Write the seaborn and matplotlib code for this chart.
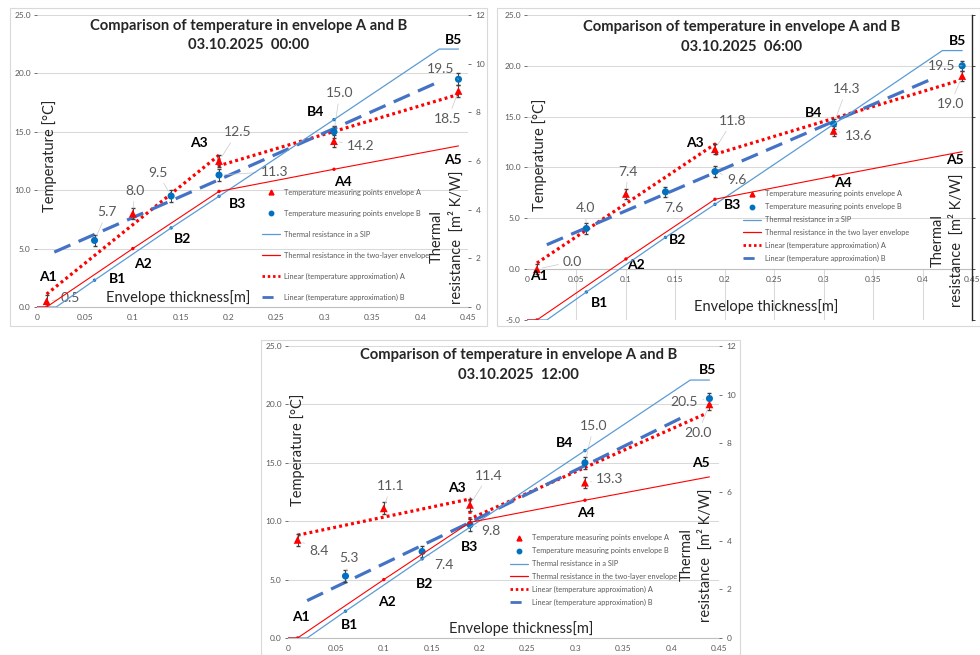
import numpy as np
import pandas as pd
import seaborn as sns
import matplotlib.pyplot as plt
from matplotlib.lines import Line2D
from matplotlib.patches import Rectangle

# positions of the measuring points [m]
x_A = [0.01, 0.10, 0.19, 0.31, 0.44]
x_B = [0.06, 0.14, 0.19, 0.31, 0.44]
names_A = ['A1', 'A2', 'A3', 'A4', 'A5']
names_B = ['B1', 'B2', 'B3', 'B4', 'B5']

# measured temperatures [°C]
temp_A_0000 = [0.5, 8.0, 12.5, 14.2, 18.5]
temp_B_0000 = [5.7, 9.5, 11.3, 15.0, 19.5]
temp_A_0600 = [0.0, 7.4, 11.8, 13.6, 19.0]
temp_B_0600 = [4.0, 7.6, 9.6, 14.3, 20.0]
temp_A_1200 = [8.4, 11.1, 11.4, 13.3, 20.0]
temp_B_1200 = [5.3, 7.4, 9.7, 15.0, 20.5]

# value labels as printed on the chart
lab_A_0000 = ['0.5', '8.0', '12.5', '14.2', '18.5']
lab_B_0000 = ['5.7', '9.5', '11.3', '15.0', '19.5']
lab_A_0600 = ['0.0', '7.4', '11.8', '13.6', '19.0']
lab_B_0600 = ['4.0', '7.6', '9.6', '14.3', '19.5']
lab_A_1200 = ['8.4', '11.1', '11.4', '13.3', '20.0']
lab_B_1200 = ['5.3', '7.4', '9.8', '15.0', '20.5']

# thermal resistance [m2 K/W] (right axis)
x_sip = [0.0, 0.02, 0.06, 0.14, 0.19, 0.31, 0.42, 0.44]
r_sip = [0.0, 0.0, 1.1, 3.25, 4.55, 7.7, 10.6, 10.6]
x_two = [0.0, 0.01, 0.10, 0.19, 0.31, 0.44]
r_two = [0.0, 0.0, 2.4, 4.75, 5.66, 6.62]

# linear trend lines (temperature approximation)
trend_A_0000_x = [0.01, 0.19, 0.19, 0.44]
trend_A_0000_y = [1.1, 13.0, 12.1, 18.2]
trend_B_0000_x = [0.018, 0.19, 0.42]
trend_B_0000_y = [4.7, 10.9, 19.3]
trend_A_0600_x = [0.01, 0.19, 0.19, 0.435]
trend_A_0600_y = [0.6, 12.3, 11.3, 18.5]
trend_B_0600_x = [0.02, 0.19, 0.414]
trend_B_0600_y = [2.4, 9.5, 18.9]
trend_A_1200_x = [0.01, 0.19, 0.19, 0.436]
trend_A_1200_y = [8.8, 11.9, 10.2, 19.2]
trend_B_1200_x = [0.02, 0.19, 0.417]
trend_B_1200_y = [3.2, 9.9, 19.1]

x_ticks = [0, 0.05, 0.1, 0.15, 0.2, 0.25, 0.3, 0.35, 0.4, 0.45]
x_tick_labels = ['0', '0.05', '0.1', '0.15', '0.2', '0.25', '0.3', '0.35', '0.4', '0.45']

RED = '#FF0000'
BLUE_PT = '#0070C0'
BLUE_SIP = '#5B9BD5'
BLUE_TR = '#4472C4'
GRAY = '#595959'

sns.set_theme(style='white')
plt.rcParams['font.family'] = ['Lato', 'DejaVu Sans']

fig = plt.figure(figsize=(9.8, 6.55), dpi=100)


def draw_panel(rect, frame, stamp, tA, tB, labA, labB, trA, trB, ymin,
               two_text, lay):
    fig.add_artist(Rectangle(frame[:2], frame[2], frame[3], transform=fig.transFigure,
                             fill=False, edgecolor='#D9D9D9', lw=0.8))
    ax = fig.add_axes(rect)
    ax2 = ax.twinx()

    # temperatures
    sns.lineplot(x=trA[0], y=trA[1], ax=ax, sort=False, estimator=None, color=RED,
                 lw=2.3, linestyle=(0, (0.9, 1.0)), dash_capstyle='butt')
    sns.lineplot(x=trB[0], y=trB[1], ax=ax, sort=False, estimator=None, color=BLUE_TR,
                 lw=2.3, linestyle=(0, (5.5, 2.8)))
    ax.errorbar(x_A, tA, yerr=0.5, fmt='none', ecolor='#404040', elinewidth=0.7, capsize=1.2)
    ax.errorbar(x_B, tB, yerr=0.5, fmt='none', ecolor='#404040', elinewidth=0.7, capsize=1.2)
    sns.scatterplot(x=x_A, y=tA, ax=ax, marker='^', color=RED, s=32, edgecolor='none', zorder=5)
    sns.scatterplot(x=x_B, y=tB, ax=ax, marker='o', color=BLUE_PT, s=26, edgecolor='none', zorder=5)

    # thermal resistance
    sns.lineplot(x=x_sip, y=r_sip, ax=ax2, sort=False, estimator=None, color=BLUE_SIP, lw=0.9)
    sns.lineplot(x=x_two, y=r_two, ax=ax2, sort=False, estimator=None, color=RED, lw=0.8)
    sns.scatterplot(x=x_sip[2:6], y=r_sip[2:6], ax=ax2, color=BLUE_PT, s=6, edgecolor='none')
    sns.scatterplot(x=x_two[1:5], y=r_two[1:5], ax=ax2, color=RED, s=6, edgecolor='none')

    ax.set_xlim(0, 0.45)
    ax.set_ylim(ymin, 25)
    ax2.set_ylim(0, 12)
    ax.set_yticks(np.arange(ymin, 25.1, 5))
    ax.set_yticklabels([f'{v:.1f}' for v in np.arange(ymin, 25.1, 5)])
    ax.set_xticks(x_ticks)
    ax.set_xticklabels(x_tick_labels)
    ax2.set_yticks(range(0, 13, 2))
    ax.grid(axis='y', color='#D9D9D9', lw=0.75)
    ax.set_axisbelow(True)
    ax.set_xlabel('')
    ax.set_ylabel('')
    ax2.set_ylabel('')
    ax.tick_params(axis='y', labelsize=6, colors=GRAY, length=2.5, width=0.6, pad=2, left=True)
    ax.tick_params(axis='x', labelsize=6, colors=GRAY, length=0, pad=5)
    ax2.tick_params(axis='y', labelsize=6, colors=GRAY, length=2.5, width=0.6, pad=3, right=True)
    for side in ['top', 'left', 'right', 'bottom']:
        ax.spines[side].set_visible(False)
        ax2.spines[side].set_visible(False)
    ax.spines['bottom'].set_visible(True)
    ax.spines['bottom'].set_color('#BFBFBF')
    ax.spines['bottom'].set_linewidth(0.8)
    if ymin < 0:
        ax.spines['bottom'].set_position(('data', 0))
        ax.vlines(x_ticks[1:], ymin, 0, color='#D9D9D9', lw=0.75, zorder=0)
        ax2.spines['right'].set_visible(True)
        ax2.spines['right'].set_color('#262626')
        ax2.spines['right'].set_linewidth(1.0)
        ax2.tick_params(axis='y', labelright=False, colors='#262626')

    # texts
    ax.text(lay['title'][0], lay['title'][1], 'Comparison of temperature in envelope A and B',
            transform=ax.transAxes, ha='center', va='center', fontsize=10.6, fontweight='bold')
    ax.text(lay['title'][0], lay['title'][2], stamp, transform=ax.transAxes,
            ha='center', va='center', fontsize=10.6, fontweight='bold')
    ax.text(*lay['ylabel'], 'Temperature [°C]', transform=ax.transAxes, rotation=90,
            ha='center', va='center', fontsize=10.5, color='#262626')
    ax.text(*lay['xlabel'], 'Envelope thickness[m]', transform=ax.transAxes,
            ha='center', va='center', fontsize=10.5, color='#262626')
    ax.text(*lay['rlabel'], 'Thermal\nresistance  [m² K/W]', transform=ax.transAxes,
            rotation=90, ha='center', va='center', multialignment='center',
            fontsize=10.5, linespacing=1.35, color='#262626')

    for i in range(5):
        ax.text(*lay['nameA'][i], names_A[i], ha='center', va='center', fontsize=10,
                fontweight='bold', color='black', zorder=6)
        ax.text(*lay['nameB'][i], names_B[i], ha='center', va='center', fontsize=10,
                fontweight='bold', color='black', zorder=6)
        ax.annotate(labA[i], xy=(x_A[i], tA[i]), xytext=lay['valA'][i], ha='center',
                    va='center', fontsize=10, color=GRAY, zorder=6,
                    arrowprops=dict(arrowstyle='-', color='#C8C8C8', lw=0.5,
                                    shrinkA=1, shrinkB=4))
        ax.annotate(labB[i], xy=(x_B[i], tB[i]), xytext=lay['valB'][i], ha='center',
                    va='center', fontsize=10, color=GRAY, zorder=6,
                    arrowprops=dict(arrowstyle='-', color='#C8C8C8', lw=0.5,
                                    shrinkA=1, shrinkB=4))

    handles = [
        Line2D([], [], marker='^', color=RED, ls='none', markersize=3.5),
        Line2D([], [], marker='o', color=BLUE_PT, ls='none', markersize=3.2),
        Line2D([], [], color=BLUE_SIP, lw=0.9),
        Line2D([], [], color=RED, lw=0.9),
        Line2D([], [], color=RED, lw=2.0, linestyle=(0, (0.9, 1.0))),
        Line2D([], [], color=BLUE_TR, lw=2.0, linestyle=(0, (4, 2.5))),
    ]
    texts = ['Temperature measuring points envelope A',
             'Temperature measuring points envelope B',
             'Thermal resistance in a SIP',
             two_text,
             'Linear (temperature approximation) A',
             'Linear (temperature approximation) B']
    ax2.legend(handles, texts, loc='upper left', bbox_to_anchor=lay['legend'],
               frameon=False, fontsize=5.3, labelcolor=GRAY, labelspacing=lay['lspace'],
               handlelength=2.4, handletextpad=0.6, borderpad=0, borderaxespad=0)


lay_0000 = dict(
    title=(0.49, 0.962, 0.897), ylabel=(0.030, 0.517), xlabel=(0.327, 0.034),
    rlabel=(0.951, 0.24), legend=(0.522, 0.405), lspace=1.9,
    nameA=[(0.0115, 2.55), (0.111, 3.7), (0.169, 14.0), (0.319, 10.7), (0.434, 12.6)],
    nameB=[(0.084, 2.4), (0.152, 5.8), (0.209, 8.8), (0.291, 16.7), (0.435, 22.9)],
    valA=[(0.035, 0.75), (0.102, 9.95), (0.209, 14.95), (0.338, 13.8), (0.429, 16.1)],
    valB=[(0.073, 8.1), (0.126, 11.5), (0.248, 11.6), (0.316, 18.3), (0.421, 20.4)],
)
lay_0600 = dict(
    title=(0.483, 0.961, 0.895), ylabel=(0.029, 0.541), xlabel=(0.537, 0.043),
    rlabel=(0.945, 0.262), legend=(0.485, 0.425), lspace=0.8,
    nameA=[(0.012, -0.7), (0.110, 0.45), (0.170, 12.4), (0.319, 8.5), (0.433, 10.7)],
    nameB=[(0.073, -3.3), (0.152, 2.9), (0.208, 6.3), (0.290, 15.4), (0.435, 22.4)],
    valA=[(0.046, 0.75), (0.102, 9.6), (0.208, 14.6), (0.335, 13.1), (0.428, 16.2)],
    valB=[(0.059, 6.0), (0.149, 6.0), (0.212, 8.8), (0.323, 17.7), (0.419, 20.0)],
)
lay_1200 = dict(
    title=(0.534, 0.969, 0.901), ylabel=(0.023, 0.644), xlabel=(0.541, 0.034),
    rlabel=(0.947, 0.284), legend=(0.515, 0.355), lspace=0.8,
    nameA=[(0.0136, 1.8), (0.103, 3.1), (0.176, 12.8), (0.311, 10.7), (0.431, 15.0)],
    nameB=[(0.064, 1.1), (0.143, 4.6), (0.189, 7.8), (0.289, 16.7), (0.438, 22.9)],
    valA=[(0.032, 7.45), (0.107, 13.0), (0.209, 13.9), (0.336, 13.6), (0.428, 17.55)],
    valB=[(0.064, 6.85), (0.163, 6.25), (0.212, 9.15), (0.319, 18.15), (0.414, 20.2)],
)

draw_panel([0.0378, 0.5313, 0.4398, 0.4458], (0.0102, 0.5023, 0.4867, 0.4855),
           '03.10.2025  00:00', temp_A_0000, temp_B_0000, lab_A_0000, lab_B_0000,
           (trend_A_0000_x, trend_A_0000_y), (trend_B_0000_x, trend_B_0000_y), 0,
           'Thermal resistance in the two-layer envelope', lay_0000)
draw_panel([0.5378, 0.5115, 0.4541, 0.4656], (0.5071, 0.5023, 0.4929, 0.4855),
           '03.10.2025  06:00', temp_A_0600, temp_B_0600, lab_A_0600, lab_B_0600,
           (trend_A_0600_x, trend_A_0600_y), (trend_B_0600_x, trend_B_0600_y), -5,
           'Thermal resistance in the two layer envelope', lay_0600)
draw_panel([0.2939, 0.0260, 0.4398, 0.4458], (0.2663, 0.0, 0.4888, 0.4810),
           '03.10.2025  12:00', temp_A_1200, temp_B_1200, lab_A_1200, lab_B_1200,
           (trend_A_1200_x, trend_A_1200_y), (trend_B_1200_x, trend_B_1200_y), 0,
           'Thermal resistance in the two-layer envelope', lay_1200)

fig.savefig('out.png', dpi=100)
